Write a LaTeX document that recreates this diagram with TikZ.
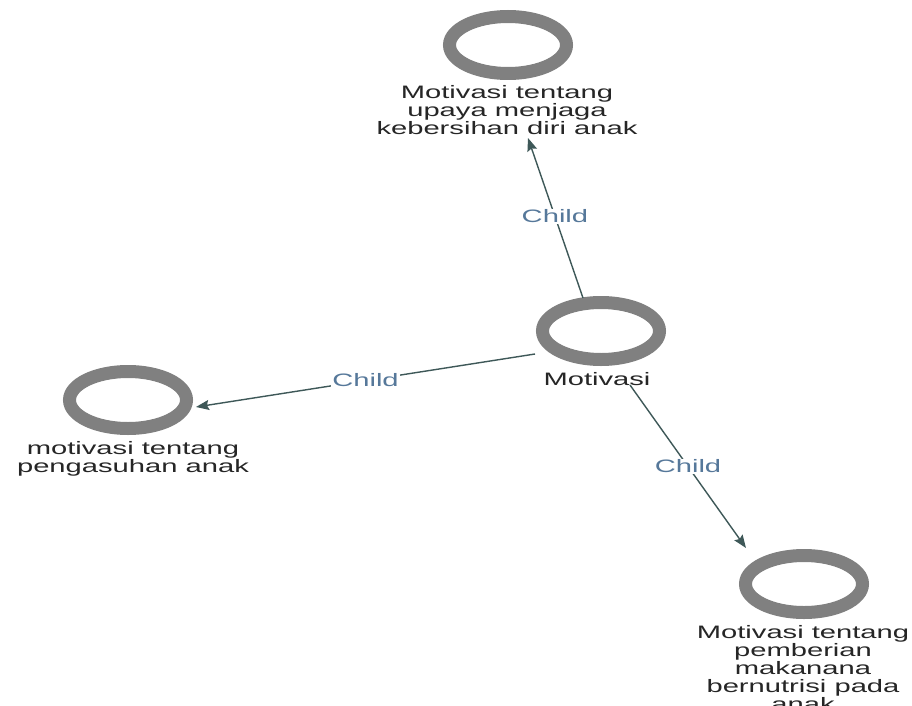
\documentclass[tikz,border=0pt]{standalone}
\usepackage{fontspec}
\setmainfont{Liberation Sans}[FakeStretch=1.62]
\usetikzlibrary{arrows.meta,shapes.geometric}
\definecolor{ringgray}{HTML}{808080}
\definecolor{edgecol}{HTML}{3E5858}
\definecolor{labelcol}{HTML}{56789A}
\begin{document}
\begin{tikzpicture}[x=1pt,y=-1pt,
  ring/.style={draw=ringgray, line width=13pt, ellipse, minimum width=117pt,
    minimum height=57pt, inner sep=0pt, fill=white},
  caption/.style={align=center, inner sep=0pt, anchor=north,
    font=\fontsize{18}{18}\selectfont, text=black!85},
  edge/.style={draw=edgecol, line width=1.4pt,
    -{Stealth[length=13pt,width=10pt,inset=2pt]}},
  elabel/.style={fill=white, inner sep=1pt, text=labelcol,
    font=\fontsize{18}{18}\selectfont}]
  \useasboundingbox[fill=white] (0,0) rectangle (912,706);

  % nodes: ring and caption
  \node[ring] (rt) at (508,45) {};
  \node[caption] (tt) at (507,85.5) {Motivasi tentang\\upaya menjaga\\kebersihan diri anak};

  \node[ring] (rm) at (601,331) {};
  \node[caption] (tm) at (597,372.5) {Motivasi};

  \node[ring] (rl) at (128,400) {};
  \node[caption] (tl) at (133,441.5) {motivasi tentang\\pengasuhan anak};

  \node[ring] (rb) at (804,584) {};
  \node[caption] (tb) at (803,625.5) {Motivasi tentang\\pemberian\\makanana\\bernutrisi pada\\anak};

  % child connectors
  \draw[edge] ([shift={(-18,-33)}]rm.center) -- node[elabel, pos=0.51] {Child} ([shift={(20,93)}]rt.center);
  \draw[edge] ([shift={(-66,23)}]rm.center) -- node[elabel, pos=0.5] {Child} ([shift={(68,7)}]rl.center);
  \draw[edge] ([shift={(29,54)}]rm.center) -- node[elabel, pos=0.5] {Child} ([shift={(-58,-36)}]rb.center);
\end{tikzpicture}
\end{document}
